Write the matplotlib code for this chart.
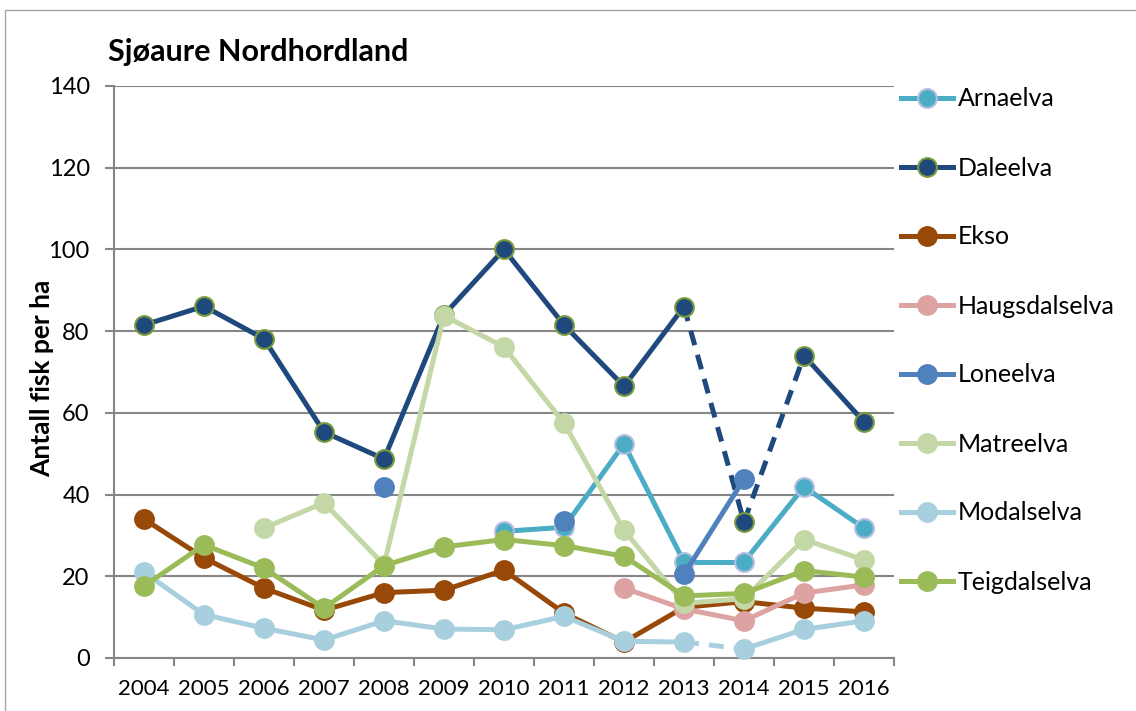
import numpy as np
import matplotlib.pyplot as plt
from matplotlib.lines import Line2D
from matplotlib.patches import Rectangle

plt.rcParams['font.family'] = ['Lato', 'DejaVu Sans']

years = ['2004', '2005', '2006', '2007', '2008', '2009', '2010',
         '2011', '2012', '2013', '2014', '2015', '2016']
nan = np.nan

arnaelva = [nan, nan, nan, nan, nan, nan, 31, 32, 52.4, 23.5, 23.5, 41.9, 31.8]
daleelva = [81.5, 86.1, 78.1, 55.3, 48.7, 84, 100, 81.5, 66.5, 86, 33.3, 74, 57.8]
ekso = [34, 24.5, 17.1, 11.7, 16, 16.6, 21.5, 11, 3.9, 12.4, 13.8, 12.2, 11.3]
haugsdalselva = [nan, nan, nan, nan, nan, nan, nan, nan, 17.1, 12, 9.1, 15.9, 17.9]
loneelva = [nan, nan, nan, nan, 41.8, nan, nan, 33.6, nan, 20.5, 43.8, nan, nan]
matreelva = [nan, nan, 31.8, 38, 22.8, 83.8, 76.1, 57.5, 31.3, 13.4, 14.5, 29, 24]
modalselva = [21, 10.6, 7.3, 4.4, 9.1, 7.1, 6.9, 10.2, 4.1, 3.9, 2.2, 7, 9.1]
teigdalselva = [17.6, 27.7, 22, 12.2, 22.6, 27.2, 29, 27.5, 24.9, 15.2, 15.8, 21.4, 19.8]

names = ['Arnaelva', 'Daleelva', 'Ekso', 'Haugsdalselva', 'Loneelva',
         'Matreelva', 'Modalselva', 'Teigdalselva']
series = [arnaelva, daleelva, ekso, haugsdalselva, loneelva,
          matreelva, modalselva, teigdalselva]
colors = ['#4BACC6', '#1F497D', '#984807', '#DDA3A2', '#4F81BD',
          '#C4D7A6', '#A8CFDD', '#9BBB59']
edges = ['#B3BEDF', '#7A9A3E', '#984807', '#DDA3A2', '#4F81BD',
         '#C4D7A6', '#A8CFDD', '#9BBB59']
# segments (start index) drawn dashed
dashed = {'Daleelva': [9, 10], 'Modalselva': [9]}

fig = plt.figure(figsize=(11.36, 7.11), dpi=100)
ax = fig.add_axes([114 / 1136, 1 - 658 / 711, 780 / 1136, 572 / 711])

x = np.arange(len(years))
lw = 3.6
ms = 13.5
handles = []
for k, (name, vals, c, ec) in enumerate(zip(names, series, colors, edges)):
    vals = np.array(vals, dtype=float)
    z = 3 + k
    for i in range(len(vals) - 1):
        if np.isnan(vals[i]) or np.isnan(vals[i + 1]):
            continue
        ls = (0, (3, 2)) if i in dashed.get(name, []) else '-'
        ax.plot(x[i:i + 2], vals[i:i + 2], color=c, lw=lw, linestyle=ls,
                solid_capstyle='round', dash_capstyle='butt', zorder=z)
    ax.plot(x, vals, linestyle='none', marker='o', ms=ms, mfc=c, mec=ec,
            mew=1.5, zorder=z, clip_on=False)
    handles.append(Line2D([], [], color=c, lw=lw, marker='o', ms=ms,
                          mfc=c, mec=ec, mew=1.5))

ax.set_xlim(-0.5, len(years) - 0.5)
ax.set_ylim(0, 140)
ax.set_yticks(range(0, 141, 20))
ax.set_xticks(x)
ax.set_xticklabels(years)
ax.set_xticks(np.arange(-0.5, len(years)), minor=True)
ax.tick_params(axis='x', which='major', length=0, pad=15, labelsize=16)
ax.tick_params(axis='x', which='minor', length=6, width=1.5, color='#868686')
ax.tick_params(axis='y', length=6.5, width=1.5, color='#868686', pad=11,
               labelsize=17)

ax.grid(axis='y', color='#868686', lw=1.5)
ax.set_axisbelow(True)
for s in ['top', 'right']:
    ax.spines[s].set_visible(False)
for s in ['left', 'bottom']:
    ax.spines[s].set_color('#868686')
    ax.spines[s].set_linewidth(1.5)

fig.text(108 / 1136, 1 - 52 / 711, 'Sjøaure Nordhordland', fontsize=22,
         fontweight='bold', va='center', ha='left')
fig.text(42 / 1136, 1 - 378 / 711, 'Antall fisk per ha', fontsize=19,
         fontweight='bold', rotation=90, va='center', ha='center')

fig.legend(handles, names, loc='center left',
           bbox_to_anchor=(901 / 1136, 1 - 340.5 / 711),
           frameon=False, fontsize=18, borderpad=0, borderaxespad=0,
           handlelength=2.08, handletextpad=0.2, labelspacing=1.84)

fig.patches.append(Rectangle((5 / 1136, -0.1), 2, 1.1 - 10 / 711,
                             transform=fig.transFigure, fill=False,
                             edgecolor='#A6A6A6', lw=1))

fig.savefig('out.png', dpi=100)
